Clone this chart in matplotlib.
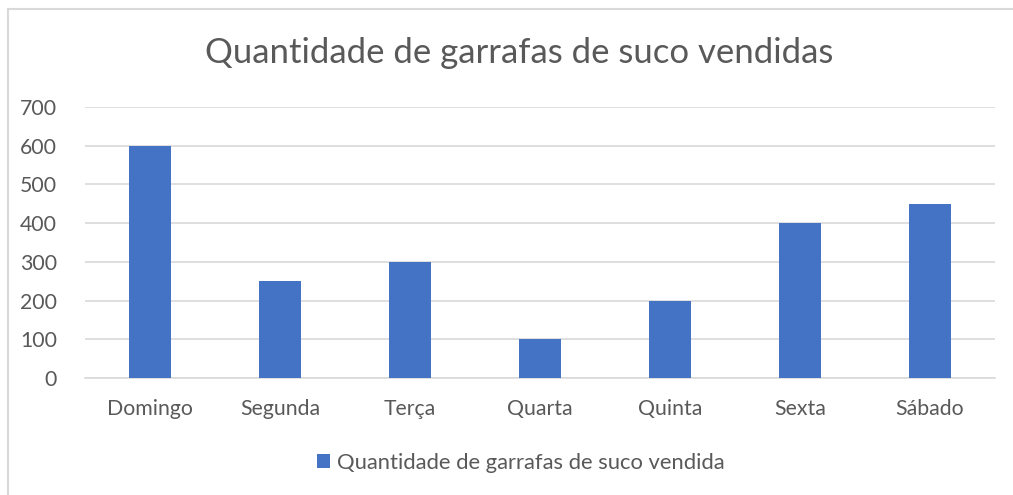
import matplotlib.pyplot as plt
from matplotlib.patches import Rectangle

# dados do gráfico
dias = ['Domingo', 'Segunda', 'Terça', 'Quarta', 'Quinta', 'Sexta', 'Sábado']
garrafas = [600, 250, 300, 100, 200, 400, 450]
yticks = [0, 100, 200, 300, 400, 500, 600, 700]

plt.rcParams['font.family'] = ['Lato', 'DejaVu Sans']
cinza = '#595959'

fig = plt.figure(figsize=(10.13, 4.95), dpi=100)
ax = fig.add_axes([85 / 1013, 1 - 378 / 495, 910 / 1013, 271 / 495])

ax.bar(range(len(dias)), garrafas, width=0.32, color='#4472C4',
       label='Quantidade de garrafas de suco vendida', zorder=3)
ax.set_xlim(-0.5, len(dias) - 0.5)
ax.set_ylim(0, 700)
ax.set_yticks(yticks)
ax.set_xticks(range(len(dias)))
ax.set_xticklabels(dias)
ax.grid(axis='y', color='#D9D9D9', linewidth=1.2, zorder=0)
for s in ['top', 'right', 'left']:
    ax.spines[s].set_visible(False)
ax.spines['bottom'].set_color('#D9D9D9')
ax.spines['bottom'].set_linewidth(1.2)
ax.tick_params(length=0, labelsize=15.3, colors=cinza)
ax.tick_params(axis='x', pad=15)
ax.tick_params(axis='y', pad=20)

fig.text(0.513, 1 - 53 / 495, 'Quantidade de garrafas de suco vendidas',
         ha='center', va='center', fontsize=25, color=cinza)

fig.legend(loc='center', bbox_to_anchor=(0.514, 1 - 463 / 495), frameon=False,
           fontsize=15.8, labelcolor=cinza, handlelength=0.6, handleheight=0.6,
           handletextpad=0.3)

# borda da área do gráfico
fig.patches.append(Rectangle((8 / 1013, -0.1), 1.2, 1 - 9 / 495 + 0.1,
                             transform=fig.transFigure, fill=False,
                             edgecolor='#D9D9D9', linewidth=1.5))

plt.savefig('out.png')
